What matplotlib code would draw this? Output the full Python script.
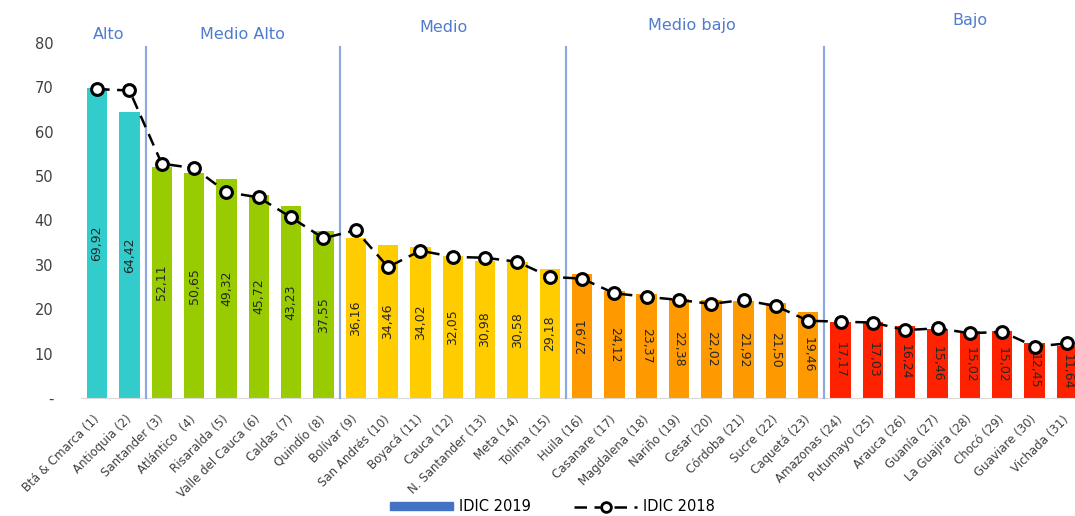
import numpy as np
import matplotlib.pyplot as plt
from matplotlib.patches import Patch
from matplotlib.lines import Line2D

deptos = ['Btá & Cmarca (1)', 'Antioquia (2)', 'Santander (3)', 'Atlántico  (4)', 'Risaralda (5)',
          'Valle del Cauca (6)', 'Caldas (7)', 'Quindío (8)', 'Bolívar (9)', 'San Andrés (10)',
          'Boyacá (11)', 'Cauca (12)', 'N. Santander (13)', 'Meta (14)', 'Tolima (15)',
          'Huila (16)', 'Casanare (17)', 'Magdalena (18)', 'Nariño (19)', 'Cesar (20)',
          'Córdoba (21)', 'Sucre (22)', 'Caquetá (23)', 'Amazonas (24)', 'Putumayo (25)',
          'Arauca (26)', 'Guanía (27)', 'La Guajira (28)', 'Chocó (29)', 'Guaviare (30)',
          'Vichada (31)']
idic_2019 = [69.92, 64.42, 52.11, 50.65, 49.32, 45.72, 43.23, 37.55, 36.16, 34.46,
             34.02, 32.05, 30.98, 30.58, 29.18, 27.91, 24.12, 23.37, 22.38, 22.02,
             21.92, 21.50, 19.46, 17.17, 17.03, 16.24, 15.46, 15.02, 15.02, 12.45,
             11.64]
idic_2018 = [69.6, 69.3, 52.8, 51.8, 46.4, 45.2, 40.7, 36.0, 37.8, 29.5,
             33.2, 31.8, 31.6, 30.7, 27.3, 26.9, 23.6, 22.8, 22.1, 21.2,
             22.1, 20.7, 17.4, 17.2, 17.0, 15.3, 15.7, 14.6, 14.9, 11.6,
             12.3]
grupo = ['Alto'] * 2 + ['Medio Alto'] * 6 + ['Medio'] * 7 + ['Medio bajo'] * 8 + ['Bajo'] * 8
colores_grupo = {'Alto': '#33CCCC', 'Medio Alto': '#99CC00', 'Medio': '#FFCC00',
                 'Medio bajo': '#FF9900', 'Bajo': '#FF2200'}
nombres_grupo = ['Alto', 'Medio Alto', 'Medio', 'Medio bajo', 'Bajo']
pos_grupo = [(0.37, 81.8), (4.5, 81.8), (10.7, 83.6), (18.4, 84.0), (27.0, 85.1)]
cortes = [1.5, 7.5, 14.5, 22.5]

x = np.arange(len(deptos))

fig = plt.figure(figsize=(10.75, 5.16), dpi=100)
ax = fig.add_axes([0.0753, 0.2287, 0.9247, 0.6880])

ax.bar(x, idic_2019, width=0.63, color=[colores_grupo[g] for g in grupo], zorder=2)
ax.plot(x, idic_2018, color='black', lw=1.8, ls=(0, (5, 3)), marker='o', ms=8.5,
        mfc='white', mec='black', mew=2.2, zorder=5)

for i, v in enumerate(idic_2019):
    rot = 90 if i < 16 else 270
    ax.text(i, v / 2, f'{v:.2f}'.replace('.', ','), rotation=rot, ha='center', va='center',
            fontsize=9, color='#262626', zorder=4, clip_on=True)

for c in cortes:
    ax.plot([c, c], [0, 79], color='#8EA9DB', lw=1.6, zorder=3, clip_on=False)

for n, (px, py) in zip(nombres_grupo, pos_grupo):
    ax.text(px, py, n, ha='center', va='center', fontsize=11.5, color='#4F7BD0', clip_on=False)

ax.set_xlim(-0.5, 30.25)
ax.set_ylim(0, 80)
ax.set_yticks(range(0, 81, 10))
ax.set_yticklabels(['-'] + [str(t) for t in range(10, 81, 10)], fontsize=10.5, color='#404040')
ax.tick_params(axis='y', length=0, pad=20)
ax.set_xticks(x)
ax.set_xticklabels(deptos, rotation=45, ha='right', va='center', rotation_mode='anchor',
                   fontsize=8.5, color='#404040')
ax.tick_params(axis='x', length=0, pad=14)
for s in ['left', 'right', 'top']:
    ax.spines[s].set_visible(False)
ax.spines['bottom'].set_color('#D9D9D9')

handles = [Patch(color='#4472C4'),
           Line2D([], [], color='black', lw=1.8, ls=(0, (5, 3)), marker='o', ms=7,
                  mfc='white', mec='black', mew=2)]
fig.legend(handles, ['IDIC 2019', 'IDIC 2018'], loc='center', bbox_to_anchor=(0.514, 0.018),
           ncol=2, frameon=False, fontsize=10.5, handlelength=4.3, handleheight=0.5,
           handletextpad=0.4, columnspacing=3)

fig.savefig('out.png', dpi=100)
